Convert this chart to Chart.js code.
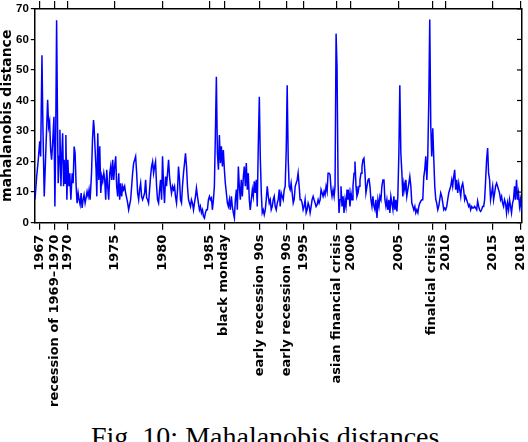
<!DOCTYPE html>
<html>
<head>
<meta charset="utf-8">
<script src="https://cdn.jsdelivr.net/npm/chart.js@4.4.0/dist/chart.umd.min.js"></script>
<style>
  html, body { margin: 0; padding: 0; background: #fff; }
  #wrap { position: relative; width: 528px; height: 442px; overflow: hidden; }
  #chart { position: absolute; left: 0; top: 0; }
  #caption {
    position: absolute; left: 91px; top: 423px;
    font-family: "Liberation Serif", "DejaVu Serif", serif;
    font-size: 28px; line-height: 28px; white-space: nowrap; color: #000;
  }
</style>
</head>
<body>
<div id="wrap">
  <canvas id="chart" width="528" height="412"></canvas>
  <div id="caption">Fig. 10: Mahalanobis distances</div>
</div>
<script>
// decimal years of the observations
const years = [
  1966.52, 1966.70, 1966.87, 1967.02, 1967.12, 1967.26, 1967.36, 1967.50, 1967.65, 1967.76,
  1967.86, 1967.97, 1968.07, 1968.18, 1968.28, 1968.39, 1968.53, 1968.63, 1968.71, 1968.81,
  1968.92, 1968.98, 1969.09, 1969.16, 1969.27, 1969.34, 1969.45, 1969.55, 1969.61, 1969.72,
  1969.79, 1969.90, 1970.00, 1970.11, 1970.21, 1970.32, 1970.46, 1970.56, 1970.67, 1970.77,
  1970.88, 1970.98, 1971.09, 1971.19, 1971.30, 1971.41, 1971.51, 1971.62, 1971.72, 1971.83,
  1971.93, 1972.04, 1972.15, 1972.25, 1972.36, 1972.51, 1972.61, 1972.72, 1972.78, 1972.89,
  1972.99, 1973.07, 1973.17, 1973.28, 1973.38, 1973.49, 1973.60, 1973.70, 1973.81,
  1973.91, 1974.01, 1974.12, 1974.22, 1974.33, 1974.44, 1974.54, 1974.65, 1974.75, 1974.86,
  1974.96, 1975.07, 1975.17, 1975.28, 1975.39, 1975.49, 1975.60, 1975.70, 1975.81, 1975.91,
  1976.02, 1976.12, 1976.23, 1976.34, 1976.44, 1976.55, 1976.65, 1976.76, 1976.86, 1976.97,
  1977.08, 1977.18, 1977.29, 1977.39, 1977.50, 1977.60, 1977.71, 1977.81, 1977.92, 1978.03,
  1978.13, 1978.24, 1978.34, 1978.45, 1978.55, 1978.66, 1978.76, 1978.87, 1978.98, 1979.08,
  1979.19, 1979.29, 1979.40, 1979.50, 1979.61, 1979.72, 1979.82, 1979.93, 1980.03, 1980.14,
  1980.24, 1980.35, 1980.45, 1980.56, 1980.67, 1980.77, 1980.88, 1980.98, 1981.09, 1981.19,
  1981.30, 1981.40, 1981.51, 1981.62, 1981.72, 1981.83, 1981.93, 1982.04, 1982.14, 1982.25,
  1982.36, 1982.46, 1982.57, 1982.67, 1982.78, 1982.88, 1982.99, 1983.09, 1983.20, 1983.31,
  1983.41, 1983.52, 1983.62, 1983.73, 1983.83, 1983.94, 1984.04, 1984.15, 1984.26, 1984.36,
  1984.47, 1984.57, 1984.68, 1984.78, 1984.89, 1985.00, 1985.10, 1985.21, 1985.31, 1985.42,
  1985.52, 1985.63, 1985.73, 1985.84, 1985.95, 1986.05, 1986.16, 1986.26, 1986.37, 1986.47,
  1986.58, 1986.68, 1986.79, 1986.90, 1987.00, 1987.11, 1987.21, 1987.32, 1987.42, 1987.53,
  1987.64, 1987.74, 1987.85, 1987.95, 1988.06, 1988.16, 1988.27, 1988.37, 1988.48, 1988.59,
  1988.69, 1988.80, 1988.90, 1989.01, 1989.11, 1989.22, 1989.32, 1989.43, 1989.54, 1989.64,
  1989.75, 1989.85, 1989.96, 1990.06, 1990.17, 1990.28, 1990.38, 1990.49, 1990.59, 1990.70,
  1990.80, 1990.91, 1991.01, 1991.12, 1991.23, 1991.33, 1991.44, 1991.54, 1991.65, 1991.75,
  1991.86, 1991.96, 1992.07, 1992.18, 1992.28, 1992.39, 1992.49, 1992.60, 1992.70, 1992.81,
  1992.92, 1993.02, 1993.13, 1993.23, 1993.34, 1993.44, 1993.55, 1993.65, 1993.76, 1993.87,
  1993.97, 1994.08, 1994.18, 1994.29, 1994.39, 1994.50, 1994.60, 1994.71, 1994.82, 1994.92,
  1995.03, 1995.13, 1995.24, 1995.34, 1995.45, 1995.56, 1995.66, 1995.77, 1995.87, 1995.98,
  1996.08, 1996.19, 1996.29, 1996.40, 1996.51, 1996.61, 1996.72, 1996.82, 1996.93, 1997.03,
  1997.14, 1997.24, 1997.35, 1997.46, 1997.56, 1997.67, 1997.77, 1997.88, 1997.98, 1998.09,
  1998.20, 1998.30, 1998.41, 1998.51, 1998.62, 1998.72, 1998.83, 1998.93, 1999.04, 1999.15,
  1999.25, 1999.36, 1999.46, 1999.57, 1999.67, 1999.78, 1999.88, 1999.99, 2000.10, 2000.20,
  2000.31, 2000.41, 2000.52, 2000.62, 2000.73, 2000.84, 2000.94, 2001.05, 2001.15, 2001.26,
  2001.36, 2001.47, 2001.57, 2001.68, 2001.79, 2001.89, 2002.00, 2002.10, 2002.21, 2002.31,
  2002.42, 2002.52, 2002.63, 2002.74, 2002.84, 2002.95, 2003.05, 2003.16, 2003.26, 2003.37,
  2003.48, 2003.58, 2003.69, 2003.79, 2003.90, 2004.00, 2004.11, 2004.21, 2004.32, 2004.43,
  2004.53, 2004.64, 2004.74, 2004.85, 2004.95, 2005.06, 2005.16, 2005.27, 2005.38, 2005.48,
  2005.59, 2005.69, 2005.80, 2005.90, 2006.01, 2006.12, 2006.22, 2006.33, 2006.43, 2006.54,
  2006.64, 2006.75, 2006.85, 2006.96, 2007.07, 2007.17, 2007.28, 2007.38, 2007.49, 2007.59,
  2007.70, 2007.80, 2007.91, 2008.02, 2008.12, 2008.23, 2008.33, 2008.44, 2008.54, 2008.65,
  2008.76, 2008.86, 2008.97, 2009.07, 2009.18, 2009.28, 2009.39, 2009.49, 2009.60, 2009.71,
  2009.81, 2009.92, 2010.02, 2010.13, 2010.23, 2010.34, 2010.44, 2010.55, 2010.66, 2010.76,
  2010.87, 2010.97, 2011.08, 2011.18, 2011.29, 2011.40, 2011.50, 2011.61, 2011.71, 2011.82,
  2011.92, 2012.03, 2012.13, 2012.24, 2012.35, 2012.45, 2012.56, 2012.66, 2012.77, 2012.87,
  2012.98, 2013.08, 2013.19, 2013.30, 2013.40, 2013.51, 2013.61, 2013.72, 2013.82, 2013.93,
  2014.04, 2014.14, 2014.25, 2014.35, 2014.46, 2014.56, 2014.67, 2014.77, 2014.88, 2014.99,
  2015.09, 2015.20, 2015.30, 2015.41, 2015.51, 2015.62, 2015.72, 2015.83, 2015.94, 2016.04,
  2016.15, 2016.25, 2016.36, 2016.46, 2016.57, 2016.68, 2016.78, 2016.89, 2016.99, 2017.10,
  2017.20, 2017.31, 2017.41, 2017.52, 2017.63, 2017.73, 2017.84, 2017.94, 2018.05
];

// mahalanobis distance
const distances = [
  7.5, 15.1, 20.6, 26.6, 21.7, 54.8, 31.4, 8.6, 21.7, 31.4,
  40.2, 31.4, 33.1, 23.8, 20.6, 26.0, 34.7, 5.3, 26.0, 66.3,
  29.3, 12.9, 21.7, 30.4, 11.9, 20.6, 29.3, 11.9, 20.6, 12.9,
  28.7, 7.5, 20.6, 11.9, 16.2, 7.5, 16.2, 12.9, 24.9, 22.7,
  11.9, 6.4, 9.7, 7.5, 5.9, 9.7, 4.8, 7.5, 9.1, 6.4,
  8.1, 10.2, 8.6, 10.8, 7.5, 16.2, 27.1, 33.6, 31.4, 23.8,
  17.3, 8.6, 29.3, 14.0, 25.0, 9.7, 15.1, 13.5, 16.2,
  14.0, 7.5, 17.3, 11.9, 7.5, 16.2, 18.4, 14.0, 20.6, 14.0,
  18.4, 21.7, 11.9, 8.6, 16.2, 7.5, 12.9, 8.6, 11.9, 10.8,
  11.9, 9.7, 8.1, 6.4, 4.2, 5.9, 7.5, 11.9, 16.2, 19.5,
  20.6, 21.7, 16.2, 9.7, 7.5, 10.8, 12.9, 8.6, 7.5, 8.6,
  9.7, 14.0, 8.1, 7.5, 6.4, 10.8, 15.1, 18.4, 20.0, 16.2,
  18.4, 20.0, 11.9, 7.5, 6.4, 10.8, 14.0, 7.5, 21.7, 11.9,
  6.4, 15.1, 11.9, 16.2, 20.6, 15.1, 11.9, 9.7, 11.9, 10.8,
  11.9, 8.6, 6.4, 10.8, 18.4, 14.0, 7.5, 6.4, 11.9, 16.2,
  19.5, 22.7, 18.4, 11.9, 7.5, 6.4, 5.3, 7.5, 6.4, 4.2,
  6.4, 8.6, 11.3, 8.6, 6.4, 4.2, 5.3, 3.2, 4.2, 2.1,
  1.5, 3.2, 4.2, 4.2, 7.5, 8.6, 7.5, 8.1, 4.2, 7.5,
  11.9, 29.3, 47.8, 22.7, 17.3, 28.7, 19.5, 25.0, 18.4, 23.8,
  17.3, 12.9, 9.7, 6.4, 5.3, 7.5, 4.2, 8.6, 5.3, 3.2,
  1.5, 7.5, 10.8, 4.2, 18.4, 11.9, 7.5, 14.0, 8.6, 15.1,
  18.4, 11.9, 19.5, 10.8, 16.2, 7.5, 4.2, 7.5, 10.8, 8.6,
  13.5, 9.7, 14.0, 5.3, 24.9, 41.2, 21.7, 9.7, 3.2, 4.2,
  2.6, 4.2, 7.5, 11.9, 8.6, 6.4, 7.5, 4.2, 5.3, 7.5,
  8.6, 5.3, 4.2, 6.4, 7.5, 10.8, 5.3, 9.7, 8.6, 7.5,
  10.8, 11.9, 23.8, 45.0, 20.6, 11.9, 10.8, 12.9, 9.7, 6.4,
  7.5, 11.9, 12.9, 14.0, 16.2, 11.9, 7.5, 7.5, 6.4, 4.2,
  5.3, 7.5, 3.2, 4.2, 6.4, 5.3, 3.2, 5.3, 7.5, 8.6,
  7.5, 6.4, 5.3, 5.9, 7.5, 6.4, 7.5, 10.8, 9.7, 8.6,
  10.2, 9.1, 11.9, 10.2, 16.2, 16.2, 15.7, 10.8, 8.6, 10.8,
  8.6, 11.9, 61.9, 51.0, 12.9, 3.2, 7.5, 11.9, 5.3, 8.6,
  3.2, 7.5, 5.3, 10.8, 7.5, 9.7, 5.3, 9.7, 7.5, 11.9,
  16.2, 20.0, 11.9, 8.6, 9.7, 11.9, 14.0, 16.2, 18.4, 20.6,
  21.1, 16.2, 9.7, 11.9, 14.0, 14.6, 11.9, 7.5, 5.3, 8.6,
  5.3, 4.2, 7.5, 1.5, 7.5, 5.3, 8.6, 7.5, 11.9, 14.0,
  14.0, 7.5, 5.3, 7.5, 4.2, 7.5, 3.2, 8.6, 6.4, 4.2,
  8.6, 4.2, 7.5, 3.7, 8.6, 22.7, 45.0, 22.7, 16.2, 8.6,
  12.9, 10.8, 14.0, 8.6, 10.8, 12.9, 15.1, 11.9, 6.4, 5.3,
  4.2, 5.3, 3.2, 4.2, 3.2, 5.3, 6.4, 7.0, 7.5, 7.5,
  15.1, 17.3, 21.7, 14.0, 21.7, 40.2, 66.5, 31.4, 21.7, 30.9,
  20.6, 11.9, 7.5, 6.4, 4.2, 5.3, 7.5, 9.7, 8.6, 6.4,
  4.2, 4.8, 4.2, 5.3, 7.5, 9.7, 10.8, 11.9, 14.0, 11.9,
  15.1, 17.3, 10.8, 14.0, 9.7, 12.9, 10.8, 8.6, 11.9, 12.9,
  10.8, 7.5, 8.6, 7.5, 6.4, 5.3, 5.9, 4.2, 5.3, 4.8,
  4.8, 5.3, 4.8, 4.2, 7.0, 5.3, 4.2, 3.7, 4.2, 5.3,
  5.3, 7.5, 14.0, 20.6, 24.4, 16.2, 14.0, 7.5, 9.7, 11.9,
  7.5, 9.7, 11.9, 12.9, 11.9, 10.8, 9.7, 7.5, 8.6, 6.4,
  5.3, 7.5, 6.4, 3.2, 6.4, 4.2, 7.5, 5.3, 3.2, 6.4,
  7.5, 11.9, 7.5, 14.0, 7.5, 9.7, 5.3, 7.5, 3.7
];

// x-axis ticks: years plus the marked events
const tickYears = [1967, 1968.6, 1970, 1975, 1980, 1985, 1986.55, 1990.28, 1993.2,
  1995, 1998.46, 2000, 2005, 2008.58, 2010, 2015, 2018];
const tickLabels = ['1967', 'recession of 1969\u20131970', '1970', '1975', '1980', '1985',
  'black monday', 'early recession 90s', 'early recession 90s', '1995',
  'asian financial crisis', '2000', '2005', 'finalcial crisis', '2010', '2015', '2018'];

const yTicks = [0, 10, 20, 30, 40, 50, 60, 70];

const useTicks = (scale) => {
  scale.ticks = tickYears.map(v => ({ value: v }));
};

// let the last rotated label hang over the right edge like in the figure
const trimPadding = (scale) => {
  scale.paddingRight = 6;
};

// right axis: short ticks pointing into the plot
const innerTicks = {
  id: 'innerTicks',
  afterDraw(chart) {
    const { ctx, chartArea } = chart;
    const y = chart.scales.y;
    ctx.save();
    ctx.strokeStyle = '#000';
    ctx.lineWidth = 1.2;
    yTicks.forEach(v => {
      const py = y.getPixelForValue(v);
      ctx.beginPath();
      ctx.moveTo(chartArea.right, py);
      ctx.lineTo(chartArea.right - 5, py);
      ctx.stroke();
    });
    ctx.restore();
  }
};

const ctx = document.getElementById('chart').getContext('2d');

new Chart(ctx, {
  type: 'line',
  data: {
    datasets: [{
      data: years.map((yr, i) => ({ x: yr, y: distances[i] })),
      borderColor: '#0000ff',
      borderWidth: 1.5,
      pointRadius: 0,
      tension: 0,
      fill: false
    }]
  },
  options: {
    responsive: false,
    animation: false,
    layout: { padding: 0 },
    plugins: { legend: { display: false }, tooltip: { enabled: false } },
    scales: {
      x: {
        type: 'linear',
        position: 'bottom',
        min: 1966.5,
        max: 2018.1,
        afterBuildTicks: useTicks,
        afterFit: trimPadding,
        grid: { drawOnChartArea: false, tickLength: 7, color: '#000', lineWidth: 1.2 },
        border: { color: '#000', width: 1.5 },
        ticks: {
          autoSkip: false,
          minRotation: 90,
          maxRotation: 90,
          padding: 5,
          color: '#000',
          font: { family: 'DejaVu Sans', weight: 'bold', size: 13 },
          callback: (value, index) => tickLabels[index]
        }
      },
      x2: {
        type: 'linear',
        position: 'top',
        min: 1966.5,
        max: 2018.1,
        afterBuildTicks: useTicks,
        afterFit: trimPadding,
        grid: { drawOnChartArea: false, tickLength: 8, color: '#000', lineWidth: 1.2 },
        border: { color: '#000', width: 1.5 },
        ticks: { display: false }
      },
      y: {
        min: 0,
        max: 70,
        afterBuildTicks: (scale) => { scale.ticks = yTicks.map(v => ({ value: v })); },
        grid: { drawOnChartArea: false, tickLength: 4, color: '#000', lineWidth: 1.2 },
        border: { color: '#000', width: 1.5 },
        ticks: {
          padding: 2,
          color: '#000',
          font: { family: 'Liberation Sans', weight: 'bold', size: 11.5 }
        },
        title: {
          display: true,
          text: 'mahalanobis distance',
          color: '#000',
          padding: 0,
          font: { family: 'DejaVu Sans', weight: 'bold', size: 14, lineHeight: 1 }
        }
      },
      y2: {
        position: 'right',
        min: 0,
        max: 70,
        grid: { drawOnChartArea: false, drawTicks: false },
        border: { color: '#000', width: 1.5 },
        ticks: { display: false }
      }
    }
  },
  plugins: [innerTicks]
});
</script>
</body>
</html>
